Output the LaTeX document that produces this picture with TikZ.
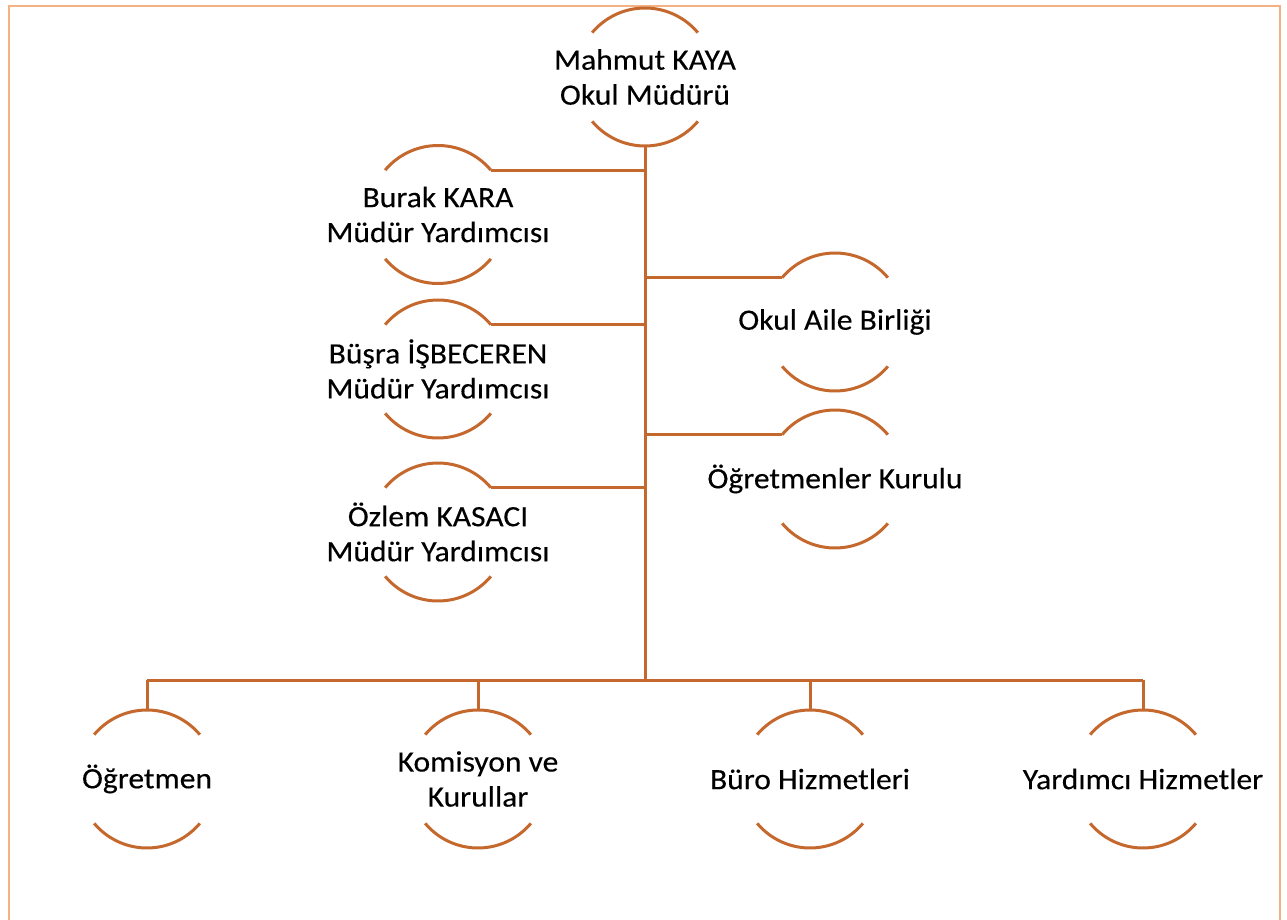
\documentclass[tikz,border=0pt]{standalone}
\usepackage{fontspec}
\setmainfont{Carlito}[FakeStretch=1.07, FakeBold=0.3]
\usepackage{tikz}
\usetikzlibrary{calc}

\definecolor{orgOrange}{RGB}{196,104,45}
\definecolor{frameOrange}{RGB}{244,177,131}

\tikzset{
    orgLine/.style={draw=orgOrange, line width=3pt},
    unitText/.style={align=center, inner sep=0pt, text=black,
        font=\fontsize{29.5}{35}\selectfont},
}

\newcommand{\unitR}{69}
\newcommand{\orgUnit}[4]{
    \node[unitText] (#1) at (#2, #3) {#4};
    \draw[orgLine] ([shift={(40:\unitR)}]#1.center) arc (40:140:\unitR);
    \draw[orgLine] ([shift={(220:\unitR)}]#1.center) arc (220:320:\unitR);
    \coordinate (#1Top) at ([shift={(90:\unitR)}]#1.center);
    \coordinate (#1Bottom) at ([shift={(270:\unitR)}]#1.center);
    \coordinate (#1Left) at ([shift={(140:\unitR)}]#1.center);
    \coordinate (#1Right) at ([shift={(40:\unitR)}]#1.center);
}

\begin{document}
\begin{tikzpicture}[x=1pt, y=1pt]
	\useasboundingbox (0, 0) rectangle (1287, -920);
	\draw[frameOrange, line width=2.2pt] (9, -6) rectangle (1280, -940);

	\orgUnit{mudur}{645}{-77}{Mahmut KAYA\\Okul Müdürü};

	\orgUnit{burak}{438}{-214.5}{Burak KARA\\Müdür Yardımcısı};
	\orgUnit{busra}{438}{-369}{Büşra İŞBECEREN\\Müdür Yardımcısı};
	\orgUnit{ozlem}{438}{-532}{Özlem KASACI\\Müdür Yardımcısı};

	\orgUnit{aile}{835}{-322}{Okul Aile Birliği};
	\orgUnit{kurul}{835}{-479}{Öğretmenler Kurulu};

	\orgUnit{ogretmen}{147}{-779}{Öğretmen};
	\orgUnit{komisyon}{478}{-779}{Komisyon ve\\Kurullar};
	\orgUnit{buro}{810}{-779}{Büro Hizmetleri};
	\orgUnit{yardimci}{1143}{-779}{Yardımcı Hizmetler};

	% trunk and bus
	\coordinate (trunk) at (645, -680);
	\draw[orgLine] (mudurBottom) -- (trunk);
	\draw[orgLine] (ogretmenTop |- trunk) -- (yardimciTop |- trunk);

	\foreach \side in {burak, busra, ozlem} {
		\draw[orgLine] (\side Right) -- (\side Right -| trunk);
	}
	\foreach \side in {aile, kurul} {
		\draw[orgLine] (\side Left) -- (\side Left -| trunk);
	}
	\foreach \low in {ogretmen, komisyon, buro, yardimci} {
		\draw[orgLine] (\low Top) -- (\low Top |- trunk);
	}
\end{tikzpicture}
\end{document}
